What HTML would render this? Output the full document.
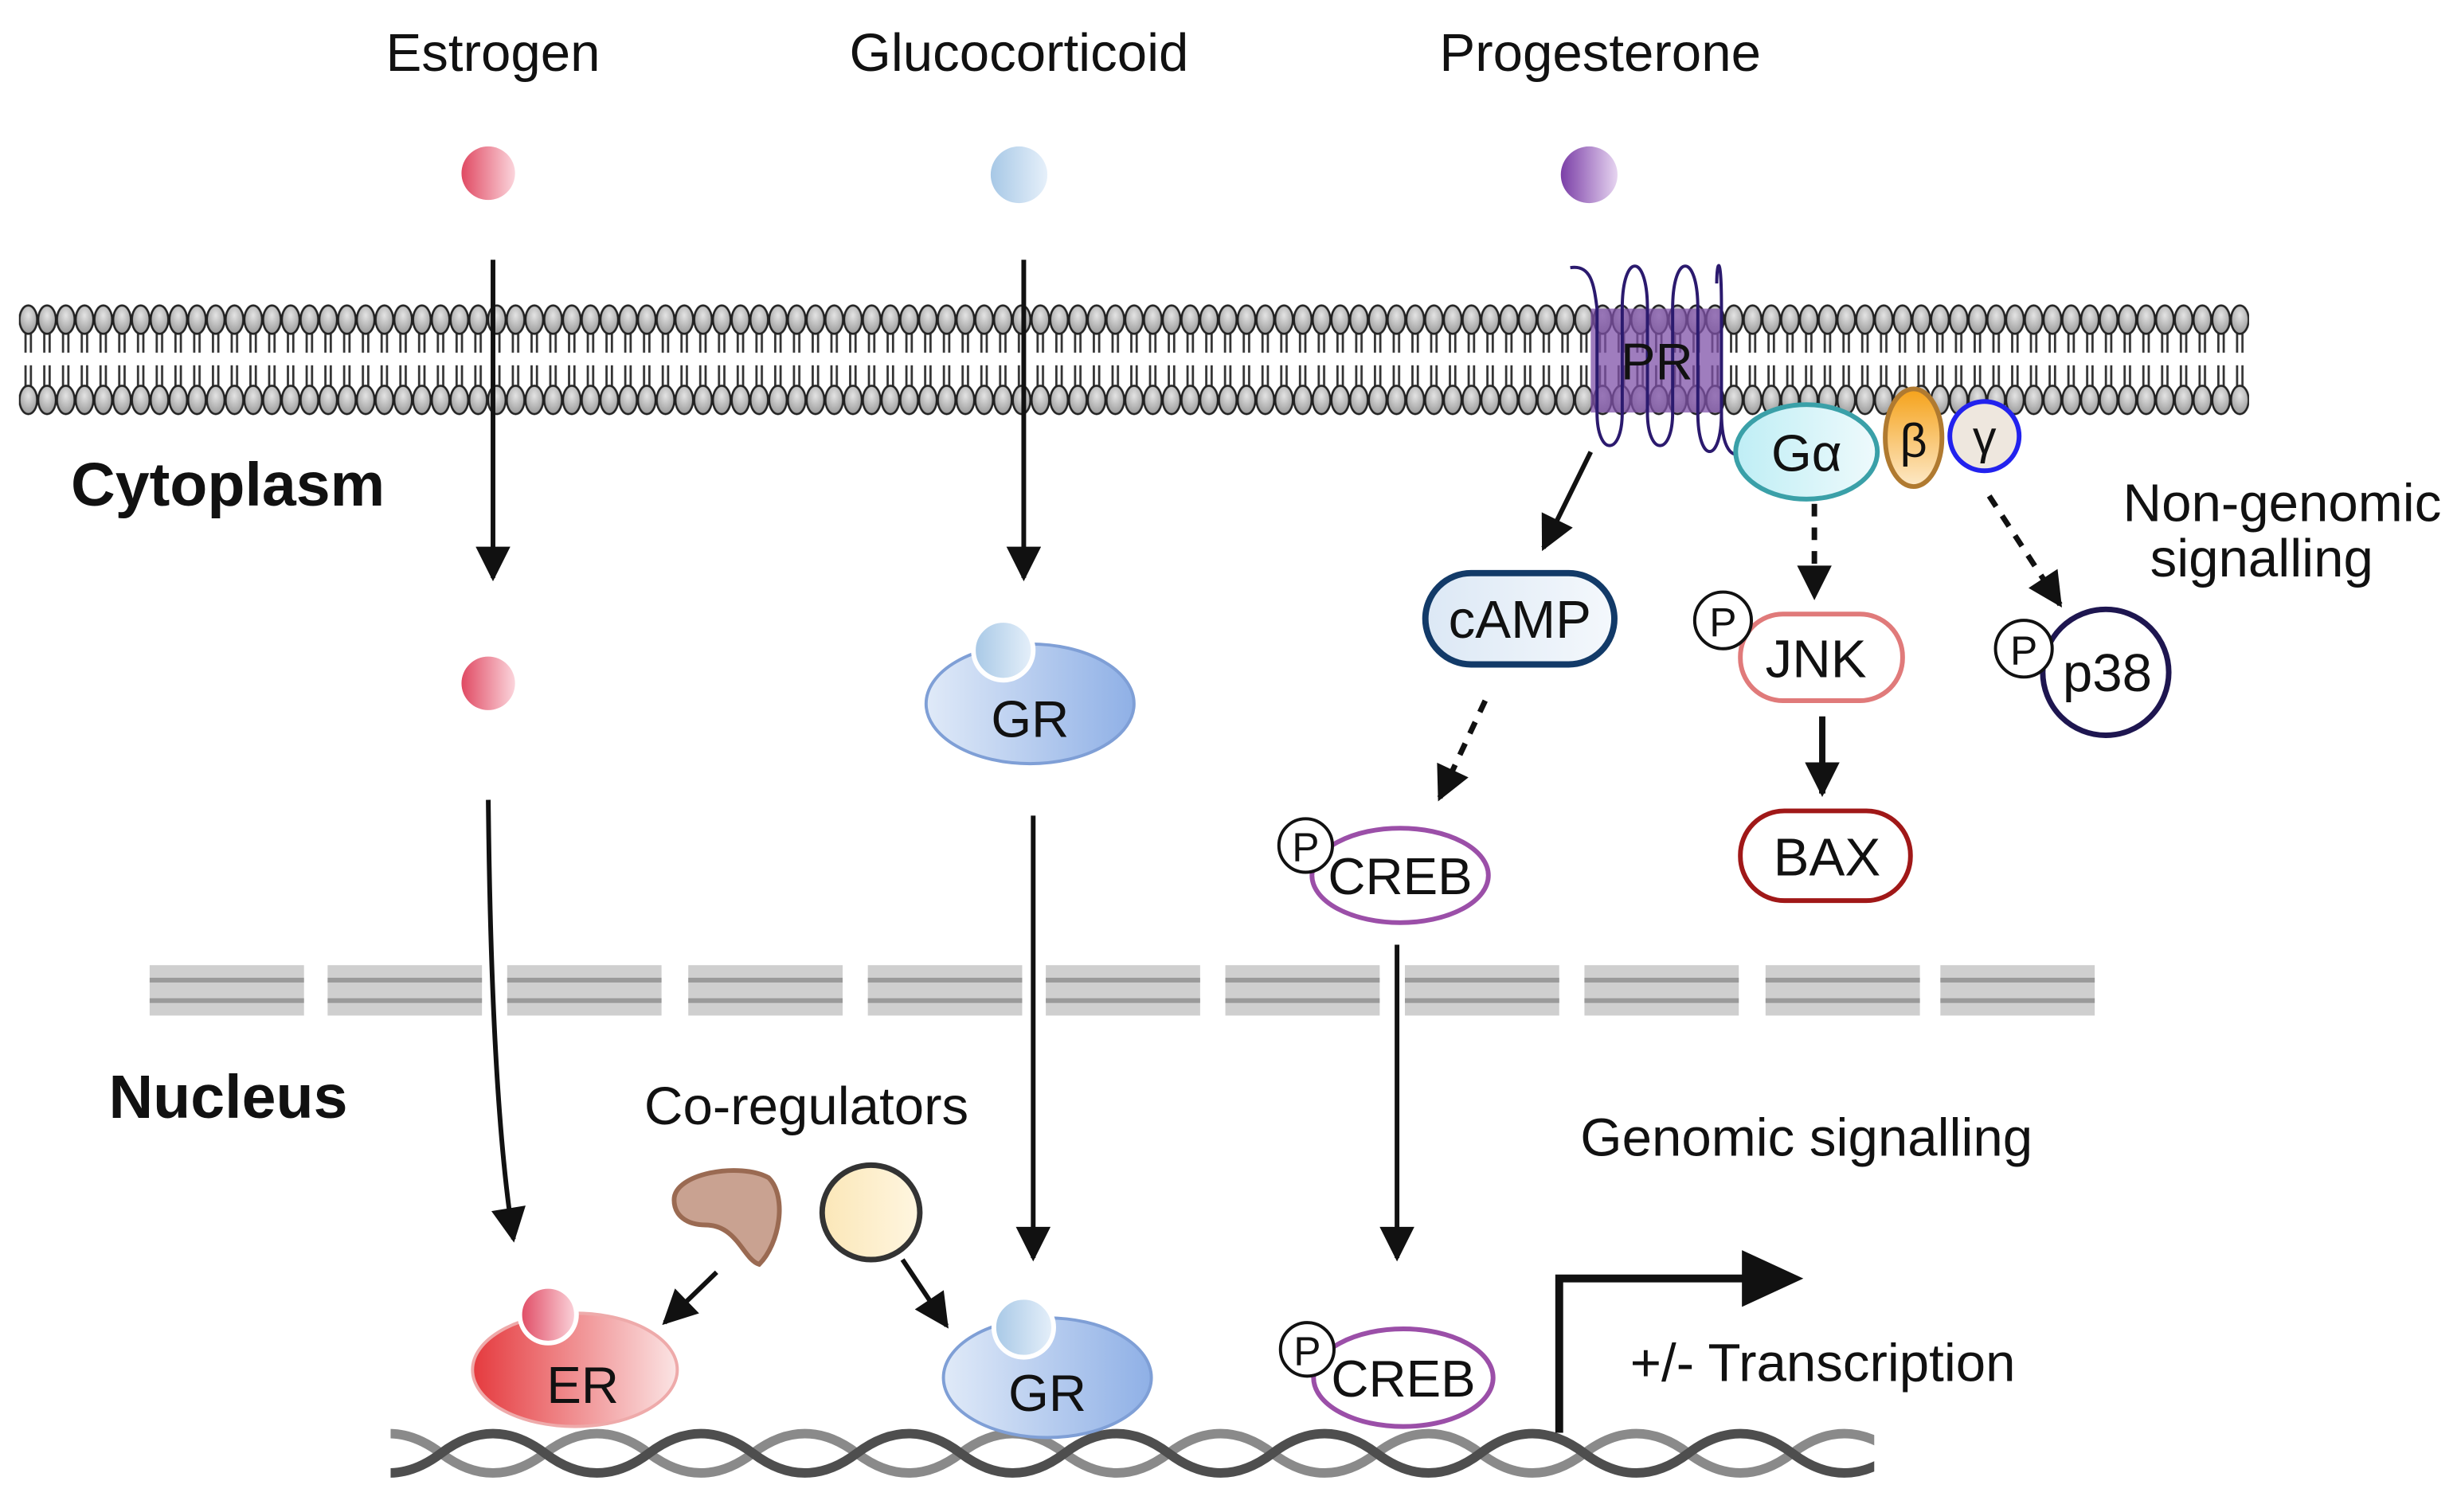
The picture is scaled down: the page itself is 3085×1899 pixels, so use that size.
<!DOCTYPE html>
<html><head><meta charset="utf-8"><style>
html,body{margin:0;padding:0;background:#fff;}
svg{display:block;}
text{font-family:"Liberation Sans",sans-serif;fill:#111;}
</style></head><body>
<svg width="3085" height="1899" viewBox="0 0 1560 960.3" xmlns="http://www.w3.org/2000/svg">
<defs>
<radialGradient id="head" cx="50%" cy="35%" r="65%"><stop offset="0" stop-color="#e4e4e4"/><stop offset="1" stop-color="#9a9a9a"/></radialGradient>
<pattern id="lipT" x="12" y="0" width="11.9" height="300" patternUnits="userSpaceOnUse">
<line x1="4.2" y1="203" x2="4.2" y2="224" stroke="#333" stroke-width="1.4"/><line x1="7.6" y1="203" x2="7.6" y2="224" stroke="#333" stroke-width="1.4"/>
<line x1="4.2" y1="232" x2="4.2" y2="253" stroke="#333" stroke-width="1.4"/><line x1="7.6" y1="232" x2="7.6" y2="253" stroke="#333" stroke-width="1.4"/>
<ellipse cx="5.95" cy="203" rx="5.6" ry="9" fill="url(#head)" stroke="#222" stroke-width="1.3"/>
<ellipse cx="5.95" cy="254" rx="5.6" ry="9" fill="url(#head)" stroke="#222" stroke-width="1.3"/>
</pattern>
<linearGradient id="pink" x1="0" x2="1"><stop offset="0" stop-color="#e04a63"/><stop offset="1" stop-color="#fbd5dc"/></linearGradient>
<linearGradient id="lblue" x1="0" x2="1"><stop offset="0" stop-color="#a7c8e6"/><stop offset="1" stop-color="#e6f0fa"/></linearGradient>
<linearGradient id="purp" x1="0" x2="1"><stop offset="0" stop-color="#7b3fa7"/><stop offset="1" stop-color="#e6d4f0"/></linearGradient>
<linearGradient id="gr" x1="0" x2="1"><stop offset="0" stop-color="#e0eaf8"/><stop offset="1" stop-color="#8fb0e6"/></linearGradient>
<linearGradient id="er" x1="0" x2="1"><stop offset="0" stop-color="#e53a3e"/><stop offset="1" stop-color="#fbe4e4"/></linearGradient>
<linearGradient id="ga" x1="0" x2="1"><stop offset="0" stop-color="#bfeef5"/><stop offset="1" stop-color="#eefafc"/></linearGradient>
<linearGradient id="beta" x1="0" x2="0" y1="0" y2="1"><stop offset="0" stop-color="#f5a21a"/><stop offset="1" stop-color="#fde9c8"/></linearGradient>
<linearGradient id="yel" x1="0" x2="1"><stop offset="0" stop-color="#fbe7b8"/><stop offset="1" stop-color="#fff6e0"/></linearGradient>
<linearGradient id="camp" x1="0" x2="1"><stop offset="0" stop-color="#dce8f5"/><stop offset="1" stop-color="#f4f8fc"/></linearGradient>
<marker id="ah" viewBox="0 0 10 10" refX="9" refY="5" markerWidth="7" markerHeight="7" markerUnits="userSpaceOnUse" orient="auto"><path d="M0,0 L10,5 L0,10 z" fill="#111"/></marker>
<marker id="ahb" viewBox="0 0 10 10" refX="9" refY="5" markerWidth="24" markerHeight="22" markerUnits="userSpaceOnUse" orient="auto"><path d="M0,0 L10,5 L0,10 z" fill="#111"/></marker>
<clipPath id="dclip"><rect x="248" y="880" width="942" height="80"/></clipPath>
</defs>

<rect x="12" y="190" width="1416" height="75" fill="url(#lipT)"/>

<text x="313" y="45" font-size="34" text-anchor="middle">Estrogen</text>
<text x="647" y="45" font-size="34" text-anchor="middle">Glucocorticoid</text>
<text x="1016" y="45" font-size="34" text-anchor="middle">Progesterone</text>
<text x="45" y="321" font-size="39" font-weight="bold">Cytoplasm</text>
<text x="69" y="710" font-size="39" font-weight="bold">Nucleus</text>
<text x="512" y="714" font-size="34" text-anchor="middle">Co-regulators</text>
<text x="1147" y="734" font-size="34" text-anchor="middle">Genomic signalling</text>
<text x="1449" y="331" font-size="34" text-anchor="middle">Non-genomic</text>
<text x="1436" y="366" font-size="34" text-anchor="middle">signalling</text>
<text x="1035" y="877" font-size="34">+/- Transcription</text>

<circle cx="310" cy="110" r="17" fill="url(#pink)"/>
<circle cx="647" cy="111" r="18" fill="url(#lblue)"/>
<circle cx="1009" cy="111" r="18" fill="url(#purp)"/>
<circle cx="310" cy="434" r="17" fill="url(#pink)"/>

<g stroke="#111" stroke-width="3" fill="none" marker-end="url(#ahb)">
<line x1="313" y1="165" x2="313" y2="367"/>
<line x1="650" y1="165" x2="650" y2="367"/>
<path d="M310,508 Q312,700 326,787"/>
<line x1="656" y1="518" x2="656" y2="799"/>
<line x1="887" y1="600" x2="887" y2="799"/>
<line x1="455" y1="808" x2="422" y2="840"/>
<line x1="573" y1="800" x2="601" y2="842"/>
<line x1="1010" y1="287" x2="980" y2="348"/>
</g>
<line x1="1157" y1="455" x2="1157" y2="504" stroke="#111" stroke-width="4" marker-end="url(#ahb)"/>
<g stroke="#111" stroke-width="3.5" fill="none" stroke-dasharray="8,7" marker-end="url(#ahb)">
<line x1="943" y1="445" x2="914" y2="507"/>
<line x1="1152" y1="320" x2="1152" y2="379"/>
<line x1="1263" y1="315" x2="1308" y2="384"/>
</g>

<ellipse cx="654" cy="447" rx="66" ry="38" fill="url(#gr)" stroke="#7f9fd6" stroke-width="2"/>
<circle cx="637" cy="413" r="19" fill="url(#lblue)" stroke="#fff" stroke-width="3"/>
<text x="654" y="468" font-size="33" text-anchor="middle">GR</text>

<g id="seg">
<rect x="95" y="613" width="98" height="32" fill="#cfcfcf"/>
<rect x="95" y="621" width="98" height="3" fill="#9a9a9a"/><rect x="95" y="634" width="98" height="3" fill="#9a9a9a"/>
</g>
<use href="#seg" x="113"/><use href="#seg" x="227"/><use href="#seg" x="342"/><use href="#seg" x="456"/><use href="#seg" x="569"/><use href="#seg" x="683"/><use href="#seg" x="797"/><use href="#seg" x="911"/><use href="#seg" x="1026"/><use href="#seg" x="1137"/>

<path d="M428,762 C428,745 470,738 488,748 C500,760 495,790 482,803 C472,800 468,778 448,778 C436,778 428,772 428,762 z" fill="#c9a291" stroke="#9a6a52" stroke-width="3"/>
<ellipse cx="553" cy="770" rx="31" ry="30" fill="url(#yel)" stroke="#333" stroke-width="3.5"/>

<g clip-path="url(#dclip)" fill="none" stroke-width="6">
<path d="M214,923 Q247,898 280,923 T346,923 T412,923 T478,923 T544,923 T610,923 T676,923 T742,923 T808,923 T874,923 T940,923 T1006,923 T1072,923 T1138,923 T1204,923 T1270,923" stroke="#8a8a8a"/>
<path d="M214,923 Q247,948 280,923 T346,923 T412,923 T478,923 T544,923 T610,923 T676,923 T742,923 T808,923 T874,923 T940,923 T1006,923 T1072,923 T1138,923 T1204,923 T1270,923" stroke="#4e4e4e"/>
</g>

<ellipse cx="365" cy="870" rx="65" ry="36" fill="url(#er)" stroke="#eaa" stroke-width="2"/>
<circle cx="348" cy="835" r="18" fill="url(#pink)" stroke="#fff" stroke-width="3"/>
<text x="370" y="891" font-size="33" text-anchor="middle">ER</text>
<ellipse cx="665" cy="875" rx="66" ry="38" fill="url(#gr)" stroke="#7f9fd6" stroke-width="2"/>
<circle cx="650" cy="843" r="19" fill="url(#lblue)" stroke="#fff" stroke-width="3"/>
<text x="665" y="896" font-size="33" text-anchor="middle">GR</text>

<path d="M990,910 L990,812 L1112,812" stroke="#111" stroke-width="5" fill="none"/>
<path d="M1106,794 L1145,812 L1106,830 z" fill="#111"/>

<rect x="1010" y="196" width="83" height="66" fill="#7f52a8" opacity="0.75"/>
<g stroke="#2b1a6e" stroke-width="2" fill="none">
<path d="M997,170 C1010,168 1012,180 1014,196 L1014,262 C1014,290 1030,290 1030,262 L1030,196 C1030,160 1046,160 1046,196 L1046,262 C1046,290 1062,290 1062,262 L1062,196 C1062,160 1078,160 1078,196 L1078,262 C1078,295 1093,295 1093,262 L1093,196 C1093,160 1090,165 1090,180"/>
<path d="M1093,262 C1093,285 1100,292 1106,287"/>
</g>
<text x="1052" y="241" font-size="33" text-anchor="middle">PR</text>

<ellipse cx="1215" cy="278" rx="18" ry="31" fill="url(#beta)" stroke="#b07a30" stroke-width="3"/>
<text x="1215" y="290" font-size="30" text-anchor="middle">β</text>
<circle cx="1260" cy="277" r="22" fill="#eee7de" stroke="#2222ee" stroke-width="3"/>
<text x="1260" y="288" font-size="30" text-anchor="middle">γ</text>
<ellipse cx="1147" cy="287" rx="45" ry="30" fill="url(#ga)" stroke="#3aa0a8" stroke-width="3"/>
<text x="1147" y="299" font-size="33" text-anchor="middle">Gα</text>

<rect x="905" y="364" width="120" height="58" rx="29" fill="url(#camp)" stroke="#123a68" stroke-width="4"/>
<text x="965" y="405" font-size="34" text-anchor="middle">cAMP</text>

<ellipse cx="889" cy="556" rx="56" ry="30" fill="#fff" stroke="#9b4fa8" stroke-width="3"/>
<text x="889" y="568" font-size="33" text-anchor="middle">CREB</text>
<circle cx="829" cy="537" r="17" fill="#fff" stroke="#111" stroke-width="2"/>
<text x="829" y="547" font-size="26" text-anchor="middle">P</text>
<ellipse cx="891" cy="875" rx="57" ry="31" fill="#fff" stroke="#9b4fa8" stroke-width="3"/>
<text x="891" y="887" font-size="33" text-anchor="middle">CREB</text>
<circle cx="830" cy="857" r="17" fill="#fff" stroke="#111" stroke-width="2"/>
<text x="830" y="867" font-size="26" text-anchor="middle">P</text>

<rect x="1105" y="390" width="103" height="55" rx="27" fill="#fff" stroke="#e07a7a" stroke-width="3"/>
<text x="1153" y="430" font-size="34" text-anchor="middle">JNK</text>
<circle cx="1094" cy="394" r="18" fill="#fff" stroke="#111" stroke-width="2"/>
<text x="1094" y="404" font-size="26" text-anchor="middle">P</text>
<rect x="1105" y="515" width="108" height="57" rx="28" fill="#fff" stroke="#a01818" stroke-width="3"/>
<text x="1160" y="556" font-size="34" text-anchor="middle">BAX</text>
<circle cx="1337" cy="427" r="40" fill="#fff" stroke="#1e1650" stroke-width="3.5"/>
<text x="1338" y="439" font-size="34" text-anchor="middle">p38</text>
<circle cx="1285" cy="412" r="18" fill="#fff" stroke="#111" stroke-width="2"/>
<text x="1285" y="422" font-size="26" text-anchor="middle">P</text>
</svg>
</body></html>
